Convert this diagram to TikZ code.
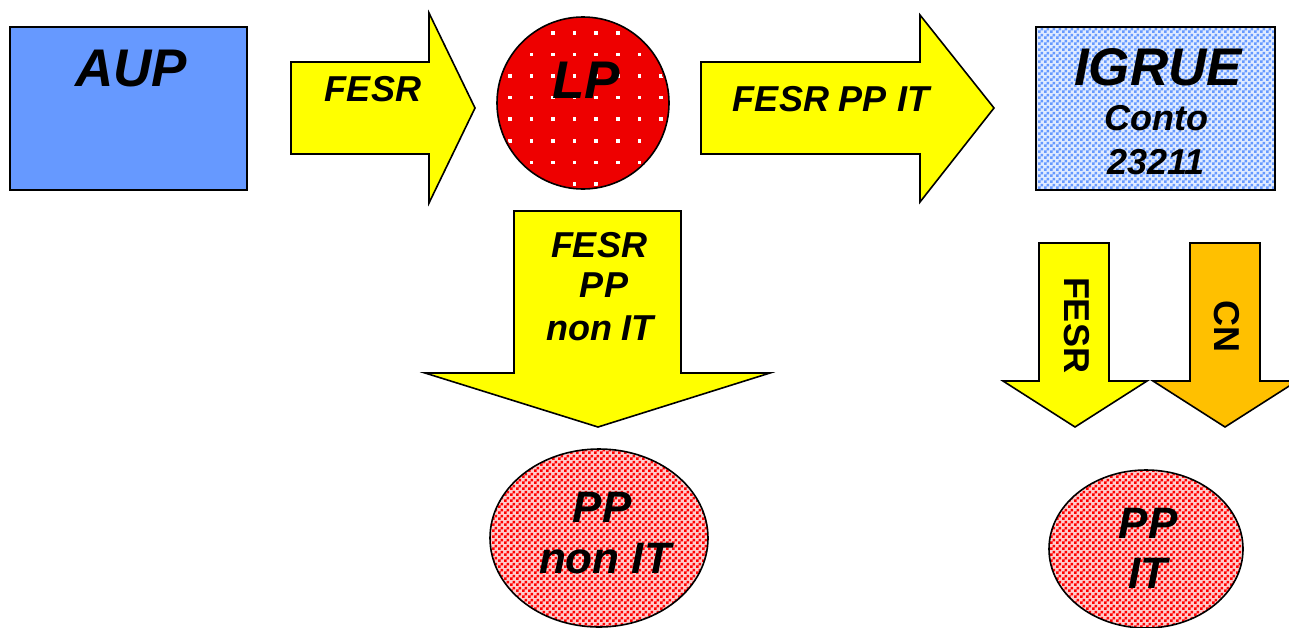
\documentclass[tikz,border=0pt]{standalone}
\usepackage{fontspec}
\setmainfont{Liberation Sans}
\usetikzlibrary{patterns}
\definecolor{AupBlue}{HTML}{6699FF}
\definecolor{FlowYellow}{HTML}{FFFF00}
\definecolor{LpRed}{HTML}{EE0000}
\definecolor{CnOrange}{HTML}{FFC000}
\definecolor{CheckRed}{HTML}{FF0000}
\pgfdeclarepatternformonly{check}{\pgfpointorigin}{\pgfqpoint{6pt}{6pt}}{\pgfqpoint{6pt}{6pt}}{%
  \pgfpathrectangle{\pgfpointorigin}{\pgfqpoint{3pt}{3pt}}%
  \pgfpathrectangle{\pgfqpoint{3pt}{3pt}}{\pgfqpoint{3pt}{3pt}}%
  \pgfusepath{fill}}
\tikzset{
  outline/.style={draw=black, line width=1.6pt, line join=miter},
  flow/.style={outline, fill=FlowYellow},
  bigtext/.style={font=\fontsize{53}{56}\selectfont\bfseries\itshape, inner sep=0pt, anchor=base},
  midtext/.style={font=\fontsize{44}{48}\selectfont\bfseries\itshape, inner sep=0pt, anchor=base},
  flowtext/.style={font=\fontsize{36}{40}\selectfont\bfseries\itshape, inner sep=0pt, anchor=base},
  sidetext/.style={font=\fontsize{36}{40}\selectfont\bfseries, inner sep=0pt, rotate=-90},
}

\begin{document}
\begin{tikzpicture}[x=1pt, y=-1pt]
  \useasboundingbox (0,0) rectangle (1289,627);

  \draw[outline, fill=AupBlue] (10,27) rectangle (247,190);
  \node[bigtext] (aup) at (131,86) {AUP};

  \draw[flow] (291,62) -- (429,62) -- (429,13) -- (475,108) -- (429,203) -- (429,154) -- (291,154) -- cycle;
  \node[flowtext] (fesrin) at (373,101) {FESR};

  \fill[LpRed] (583,103) circle (86pt);
  \begin{scope}
    \clip (583,103) circle (84pt);
    \foreach \i in {0,...,7}
      \foreach \j in {0,...,7}
        \fill[white] ({508+21.6*\i},{31+21.6*\j}) rectangle ++(3.5,3.5);
  \end{scope}
  \draw[outline] (583,103) circle (86pt);
  \node[bigtext] (lp) at (586,98) {LP};

  \draw[flow] (701,62) -- (920,62) -- (920,15) -- (994,108) -- (920,202) -- (920,154) -- (701,154) -- cycle;
  \node[flowtext] (fesrit) at (831,111) {FESR PP IT};

  \fill[AupBlue!20] (1036,27) rectangle (1275,190);
  \fill[pattern=check, pattern color=AupBlue] (1036,27) rectangle (1275,190);
  \draw[outline] (1036,27) rectangle (1275,190);
  \node[bigtext] (igrue) at (1158,85) {IGRUE};
  \node[flowtext] (conto) at (1156,130) {Conto};
  \node[flowtext] (num) at (1156,174) {23211};

  \draw[flow] (514,211) -- (681,211) -- (681,373) -- (770,373) -- (598,427) -- (425,373) -- (514,373) -- cycle;
  \node[flowtext] (fesrout) at (599,257) {FESR};
  \node[flowtext] (ppout) at (604,297) {PP};
  \node[flowtext] (nonitout) at (600,340) {non IT};

  \draw[flow] (1039,243) -- (1109,243) -- (1109,381) -- (1147,381) -- (1075,427) -- (1003,381) -- (1039,381) -- cycle;
  \node[sidetext] (fesrdown) at (1077,325) {FESR};

  \draw[outline, fill=CnOrange] (1190,243) -- (1260,243) -- (1260,381) -- (1297,381) -- (1225,427) -- (1153,381) -- (1190,381) -- cycle;
  \node[sidetext] (cn) at (1227,326) {CN};

  \fill[CheckRed!20] (599,538) ellipse (109pt and 89pt);
  \fill[pattern=check, pattern color=CheckRed] (599,538) ellipse (109pt and 89pt);
  \draw[outline] (599,538) ellipse (109pt and 89pt);
  \node[midtext] (ppnon) at (602,522) {PP};
  \node[midtext] (nonit) at (605,573) {non IT};

  \fill[CheckRed!20] (1146,549) ellipse (97pt and 79pt);
  \fill[pattern=check, pattern color=CheckRed] (1146,549) ellipse (97pt and 79pt);
  \draw[outline] (1146,549) ellipse (97pt and 79pt);
  \node[midtext] (ppit) at (1148,538) {PP};
  \node[midtext] (it) at (1148,588) {IT};
\end{tikzpicture}
\end{document}
